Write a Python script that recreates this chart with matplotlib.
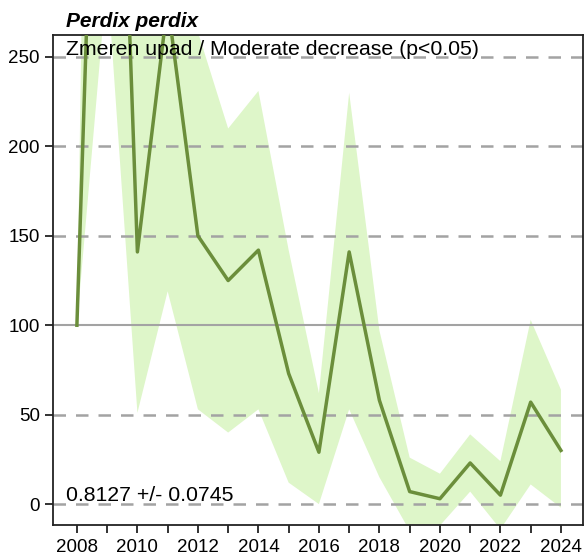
import numpy as np
import matplotlib
matplotlib.use('Agg')
import matplotlib.pyplot as plt

plt.rcParams['font.family'] = ['Liberation Sans', 'DejaVu Sans']

years = list(range(2008, 2025))
index_vals = [100, 620, 141, 280, 150, 125, 142, 73, 29, 141, 58, 7, 3, 23, 5, 57, 30]
lower_ci = [100, 295, 51, 119, 53, 40, 53, 12, 0, 53, 15, -15, -12, 7, -14, 11, -2]
upper_ci = [100, 1190, 700, 420, 264, 210, 231, 142, 62, 230, 97, 26, 17, 39, 24, 103, 64]

dashed_levels = [0, 50, 150, 200, 250]
solid_level = 100
y_ticks = [0, 50, 100, 150, 200, 250]
x_labels = [2008, 2010, 2012, 2014, 2016, 2018, 2020, 2022, 2024]

species = "Perdix perdix"
trend_text = "Zmeren upad / Moderate decrease (p<0.05)"
slope_text = "0.8127 +/- 0.0745"

line_color = '#6b8e3b'
band_color = '#def6c9'
grid_color = '#a3a3a3'

fig = plt.figure(figsize=(5.85, 5.55), dpi=100)
ax = fig.add_axes([0.0906, 0.054, 0.906, 0.883])

ax.fill_between(years, lower_ci, upper_ci, color=band_color, linewidth=0, zorder=1)

for lvl in dashed_levels:
    ax.axhline(lvl, color=grid_color, lw=1.8, ls=(0, (5, 4)), zorder=2)
ax.axhline(solid_level, color=grid_color, lw=1.5, zorder=2)

ax.plot(years, index_vals, color=line_color, lw=2.5, zorder=3)

ax.set_xlim(2007.21, 2024.73)
ax.set_ylim(-11.7, 262.3)
ax.set_xticks(years)
ax.set_xticklabels([str(y) if y in x_labels else '' for y in years])
ax.set_yticks(y_ticks)
ax.tick_params(axis='both', labelsize=13.5, length=6, width=1.3, color='#222222')
ax.tick_params(axis='x', pad=4)
for sp in ax.spines.values():
    sp.set_linewidth(1.3)
    sp.set_color('#222222')

ax.text(0.0245, 0.99, trend_text, transform=ax.transAxes, ha='left', va='top',
        fontsize=15.3, zorder=4)
ax.text(0.0245, 0.04, slope_text, transform=ax.transAxes, ha='left', va='bottom',
        fontsize=15.3, zorder=4)
ax.text(0.0245, 1.008, species, transform=ax.transAxes, ha='left', va='bottom',
        fontsize=15, fontweight='bold', fontstyle='italic')

fig.savefig('out.png', dpi=100)
